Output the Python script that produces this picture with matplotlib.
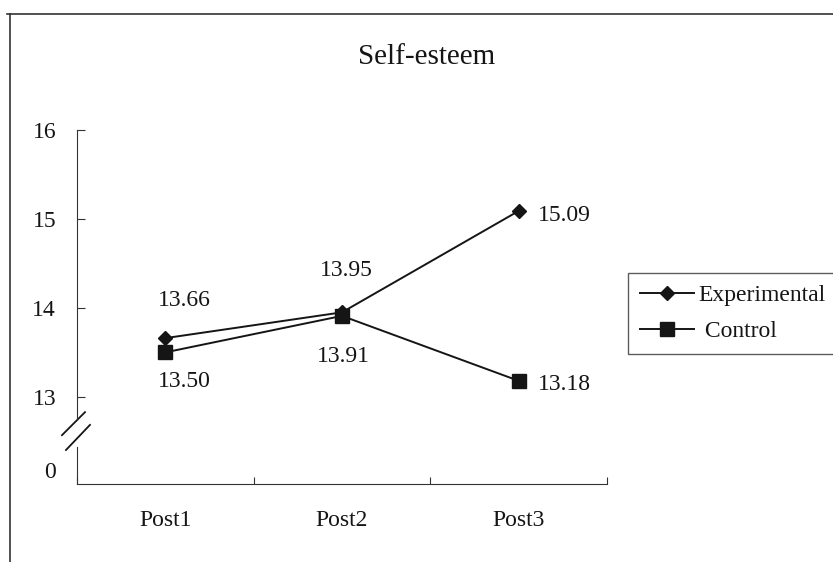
import numpy as np
import matplotlib
matplotlib.use("Agg")
from matplotlib import pyplot as plt
from matplotlib.lines import Line2D

plt.rcParams['font.family'] = ['Liberation Serif', 'DejaVu Serif']
plt.rcParams['text.color'] = '#151515'
plt.rcParams['xtick.color'] = '#333333'
plt.rcParams['ytick.color'] = '#333333'
plt.rcParams['xtick.labelcolor'] = '#151515'
plt.rcParams['ytick.labelcolor'] = '#151515'

# Mean self-esteem scores per measurement
categories = ['Post1', 'Post2', 'Post3']
experimental = [13.66, 13.95, 15.09]
control = [13.50, 13.91, 13.18]
series_names = ['Experimental', ' Control']

# label offsets in points (dx, dy) for each point
exp_offsets = [(14, 27), (3, 30), (14, -3)]
ctl_offsets = [(14, -21), (1, -29), (14, -3)]
exp_ha = ['center', 'center', 'left']
ctl_ha = ['center', 'center', 'left']

# the broken axis: 0 is drawn just under the break
zero_pos = 12.18
y_bottom = 12.02

fig = plt.figure(figsize=(8.33, 5.62), dpi=100)
ax = fig.add_axes([77/833, 1 - 484/562, 530/833, 354/562])

x = np.arange(len(categories))
ink = '#151515'
ax.plot(x, experimental, color=ink, lw=1.4, marker='D', ms=7,
        mfc=ink, mec=ink, label=series_names[0], zorder=3)
ax.plot(x, control, color=ink, lw=1.4, marker='s', ms=9.5,
        mfc=ink, mec=ink, label=series_names[1], zorder=3)

for xi, v, off, ha in zip(x, experimental, exp_offsets, exp_ha):
    ax.annotate(f'{v:.2f}', (xi, v), xytext=off, textcoords='offset points',
                ha=ha, va='center', fontsize=17)
for xi, v, off, ha in zip(x, control, ctl_offsets, ctl_ha):
    ax.annotate(f'{v:.2f}', (xi, v), xytext=off, textcoords='offset points',
                ha=ha, va='center', fontsize=17)

ax.set_xlim(-0.5, len(categories) - 0.5)
ax.set_ylim(y_bottom, 16)

ax.set_xticks(x)
ax.set_xticklabels(categories, fontsize=17)
ax.tick_params(axis='x', which='major', length=0, pad=19)
ax.set_xticks(np.arange(-0.5, len(categories)), minor=True)
ax.tick_params(axis='x', which='minor', direction='in', length=5, width=0.8)

ax.set_yticks([zero_pos, 13, 14, 15, 16])
ax.set_yticklabels(['0', '13', '14', '15', '16'], fontsize=17)
ax.tick_params(axis='y', direction='in', length=6, width=0.8, pad=15)
ax.yaxis.get_major_ticks()[0].tick1line.set_visible(False)

for side in ['top', 'right']:
    ax.spines[side].set_visible(False)
ax.spines['bottom'].set_color('#333333')
ax.spines['left'].set_color('#333333')
ax.spines['left'].set_bounds(12.74, 16)
# lower piece of the y axis below the break
ax.plot([-0.5, -0.5], [y_bottom, 12.44], color='#333333', lw=0.8,
        clip_on=False)
# break marks
for (x0, y0, x1, y1) in [(-0.0283, 0.138, 0.0151, 0.203),
                         (-0.0208, 0.096, 0.0245, 0.167)]:
    ax.plot([x0, x1], [y0, y1], transform=ax.transAxes, color=ink,
            lw=1.3, clip_on=False)

fig.text(427/833, 1 - 57/562, 'Self-esteem', ha='center', va='center',
         fontsize=21)

leg = fig.legend(loc='upper left', bbox_to_anchor=(628/833, 1 - 273/562),
                 fontsize=17, frameon=True, fancybox=False, borderpad=0.5,
                 handlelength=2.3, handletextpad=0.2, labelspacing=0.6,
                 borderaxespad=0)
leg.get_frame().set_edgecolor('#333333')
leg.get_frame().set_linewidth(1.0)

# outer chart-area border
fig.add_artist(Line2D([10/833, 10/833], [0, 1 - 14/562],
                      transform=fig.transFigure, color='#333333', lw=1.2))
fig.add_artist(Line2D([7/833, 1], [1 - 14/562, 1 - 14/562],
                      transform=fig.transFigure, color='#333333', lw=1.2))

fig.savefig('out.png', dpi=100)
